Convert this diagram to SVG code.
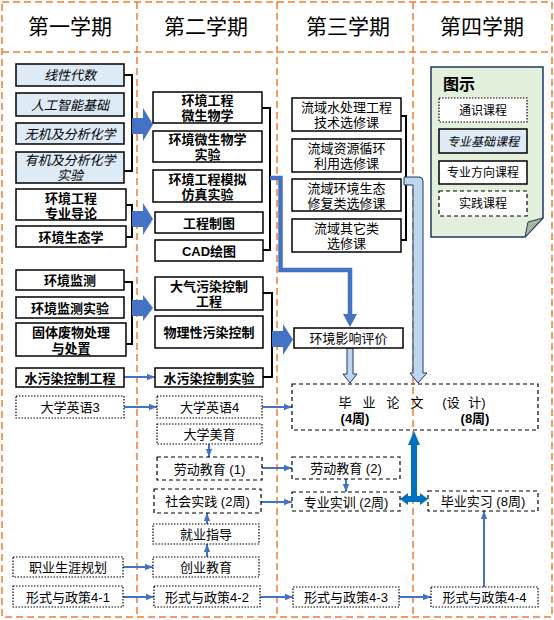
<svg xmlns="http://www.w3.org/2000/svg" width="554" height="620" viewBox="0 0 554 620">
<defs>
<style>
.hdr{font-family:"Liberation Sans","Noto Sans CJK SC",sans-serif;font-size:21px;text-anchor:middle;fill:#000}
.t{font-family:"Liberation Sans","Noto Sans CJK SC",sans-serif;font-size:13px;text-anchor:middle;fill:#000}
.b{font-weight:bold}
.s{font-size:12px}
.it{font-style:italic}
.box{fill:#fff;stroke:#000;stroke-width:1.5}
.base{fill:#DDEBF7;stroke:#000;stroke-width:1.5}
.dot{fill:#fff;stroke:#000;stroke-width:1.2;stroke-dasharray:1.5 1.5}
.dash{fill:#fff;stroke:#000;stroke-width:1.2;stroke-dasharray:4 3}
.frame{fill:none;stroke:#ED7D31;stroke-width:1.5;stroke-dasharray:7 4}
.br{fill:none;stroke:#000;stroke-width:2}
.ln{fill:none;stroke:#4472C4;stroke-width:2;marker-end:url(#ah)}
.blk{fill:#4472C4}
.lb{fill:#BDD7EE;stroke:#1F3864;stroke-width:1}
</style>
<marker id="ah" markerUnits="userSpaceOnUse" markerWidth="8" markerHeight="8" viewBox="0 0 8 8" refX="8" refY="4" orient="auto">
<path d="M0,0.8 L8,4 L0,7.2 Z" fill="#4472C4"/>
</marker>
</defs>

<g id="frame">
<rect class="frame" x="2" y="2" width="550" height="615"/>
<line class="frame" x1="2" y1="52" x2="552" y2="52"/>
<line class="frame" x1="137" y1="2" x2="137" y2="617"/>
<line class="frame" x1="277" y1="2" x2="277" y2="617"/>
<line class="frame" x1="413" y1="2" x2="413" y2="617"/>
<text class="hdr" x="70" y="34">第一学期</text>
<text class="hdr" x="206" y="34">第二学期</text>
<text class="hdr" x="348" y="34">第三学期</text>
<text class="hdr" x="482" y="34">第四学期</text>
</g>

<g id="connectors">
<path class="br" d="M124,75 H132 V171 H124"/>
<path class="br" d="M126,205 H132 V237 H126"/>
<path class="br" d="M124,282 H132 V344 H126"/>
<path class="br" d="M262,108 H270 V250 H263"/>
<path class="br" d="M263,293 H272 V377 H263"/>
<path class="br" d="M401,116 H406 V240 H401"/>
<path class="blk" d="M132,118 H143 V108 L153,124.5 L143,141 V134 H132 Z"/>
<path class="blk" d="M132,211 H143 V203 L153,219 L143,235 V227 H132 Z"/>
<path class="blk" d="M132,300 H143 V295 L153,308 L143,321 V316 H132 Z"/>
<path class="blk" d="M272,331 H283 V324 L293,339.5 L283,355 V347 H272 Z"/>
<path fill="none" stroke="#4472C4" stroke-width="4.5" d="M270,178 H280.5 V270 H350 V315"/>
<path class="blk" d="M343,314 H357 L350,327 Z"/>
<path class="lb" d="M347,348 H353 V374 H357 L350,383 L343,374 H347 Z"/>
<path class="lb" d="M404,177 H419 Q423,177 423,181 V373 H427 L418,383 L410,373 H413 V185 H404 Z"/>
<path fill="#0070C0" d="M414,431 L420,445 H417 V496 H420 V493 L428,499 L420,505 V502 H408 V505 L400,499 L408,493 V496 H411 V445 H408 Z"/>
<line class="ln" x1="124" y1="377" x2="155" y2="377"/>
<line class="ln" x1="124" y1="407" x2="157" y2="407"/>
<line class="ln" x1="262" y1="407" x2="292" y2="407"/>
<line class="ln" x1="209" y1="444" x2="209" y2="457"/>
<line class="ln" x1="262" y1="468" x2="292" y2="468"/>
<line class="ln" x1="261" y1="502" x2="292" y2="502"/>
<line class="ln" x1="346" y1="479" x2="346" y2="492"/>
<line class="ln" x1="207" y1="524" x2="207" y2="513"/>
<line class="ln" x1="207" y1="557" x2="207" y2="544"/>
<line class="ln" x1="123" y1="567" x2="153" y2="567"/>
<line class="ln" x1="123" y1="597" x2="154" y2="597"/>
<line class="ln" x1="260" y1="597" x2="293" y2="597"/>
<line class="ln" x1="399" y1="597" x2="431" y2="597"/>
<line class="ln" x1="484" y1="587" x2="484" y2="511"/>
</g>

<g id="n1"><rect class="base" x="16" y="64" width="108" height="22"/><text class="t it" x="70" y="80">线性代数</text></g>
<g id="n2"><rect class="base" x="16" y="93" width="108" height="23"/><text class="t it" x="70" y="109.5">人工智能基础</text></g>
<g id="n3"><rect class="base" x="16" y="123" width="108" height="21"/><text class="t it" x="70" y="138.5">无机及分析化学</text></g>
<g id="n4"><rect class="base" x="16" y="152" width="108" height="31"/><text class="t it" x="70" y="165">有机及分析化学</text><text class="t it" x="70" y="180">实验</text></g>
<g id="n5"><rect class="box" x="16" y="189" width="110" height="31"/><text class="t b" x="71" y="202.5">环境工程</text><text class="t b" x="71" y="217.5">专业导论</text></g>
<g id="n6"><rect class="box" x="16" y="226" width="110" height="21"/><text class="t b" x="71" y="241.5">环境生态学</text></g>
<g id="n7"><rect class="box" x="16" y="270" width="108" height="20"/><text class="t b" x="70" y="285">环境监测</text></g>
<g id="n8"><rect class="box" x="16" y="297" width="108" height="21"/><text class="t b" x="70" y="312.5">环境监测实验</text></g>
<g id="n9"><rect class="box" x="16" y="323" width="110" height="33"/><text class="t b" x="71" y="337">固体废物处理</text><text class="t b" x="71" y="353">与处置</text></g>
<g id="n10"><rect class="box" x="16" y="368" width="108" height="19"/><text class="t b" x="70" y="382.5">水污染控制工程</text></g>
<g id="n11"><rect class="dot" x="16" y="396" width="108" height="22"/><text class="t" x="70" y="412">大学英语3</text></g>
<g id="n12"><rect class="dot" x="13" y="557" width="110" height="20"/><text class="t" x="68" y="572">职业生涯规划</text></g>
<g id="n13"><rect class="dot" x="13" y="586" width="110" height="21"/><text class="t" x="68" y="601.5">形式与政策4-1</text></g>

<g id="n14"><rect class="box" x="153" y="92" width="109" height="31"/><text class="t b" x="207.5" y="105">环境工程</text><text class="t b" x="207.5" y="120">微生物学</text></g>
<g id="n15"><rect class="box" x="153" y="131" width="109" height="31"/><text class="t b" x="207.5" y="144">环境微生物学</text><text class="t b" x="207.5" y="159">实验</text></g>
<g id="n16"><rect class="box" x="153" y="170" width="109" height="32"/><text class="t b" x="207.5" y="183.5">环境工程模拟</text><text class="t b" x="207.5" y="198.5">仿真实验</text></g>
<g id="n17"><rect class="box" x="155" y="212" width="108" height="21"/><text class="t b" x="209" y="227.5">工程制图</text></g>
<g id="n18"><rect class="box" x="155" y="240" width="108" height="21"/><text class="t b" x="209" y="255.5">CAD绘图</text></g>
<g id="n19"><rect class="box" x="155" y="277" width="108" height="33"/><text class="t b" x="209" y="291">大气污染控制</text><text class="t b" x="209" y="306">工程</text></g>
<g id="n20"><rect class="box" x="155" y="316" width="108" height="32"/><text class="t b" x="209" y="337">物理性污染控制</text></g>
<g id="n21"><rect class="box" x="155" y="368" width="108" height="19"/><text class="t b" x="209" y="382.5">水污染控制实验</text></g>
<g id="n22"><rect class="dot" x="157" y="396" width="105" height="22"/><text class="t" x="209.5" y="412">大学英语4</text></g>
<g id="n23"><rect class="dot" x="157" y="424" width="105" height="20"/><text class="t" x="209.5" y="439">大学美育</text></g>
<g id="n24"><rect class="dash" x="157" y="457" width="105" height="23"/><text class="t" x="209.5" y="473.5">劳动教育 (1)</text></g>
<g id="n25"><rect class="dash" x="154" y="489" width="107" height="24"/><text class="t" x="207.5" y="506">社会实践 (2周)</text></g>
<g id="n26"><rect class="dot" x="153" y="524" width="106" height="20"/><text class="t" x="206" y="539">就业指导</text></g>
<g id="n27"><rect class="dot" x="153" y="557" width="106" height="20"/><text class="t" x="206" y="572">创业教育</text></g>
<g id="n28"><rect class="dot" x="154" y="586" width="106" height="21"/><text class="t" x="207" y="601.5">形式与政策4-2</text></g>

<g id="n29"><rect class="box" x="292" y="98" width="109" height="33"/><text class="t" x="346.5" y="112">流域水处理工程</text><text class="t" x="346.5" y="127">技术选修课</text></g>
<g id="n30"><rect class="box" x="292" y="139" width="109" height="33"/><text class="t" x="346.5" y="153">流域资源循环</text><text class="t" x="346.5" y="168">利用选修课</text></g>
<g id="n31"><rect class="box" x="292" y="179" width="109" height="32"/><text class="t" x="346.5" y="192.5">流域环境生态</text><text class="t" x="346.5" y="207.5">修复类选修课</text></g>
<g id="n32"><rect class="box" x="292" y="219" width="109" height="33"/><text class="t" x="346.5" y="233">流域其它类</text><text class="t" x="346.5" y="248">选修课</text></g>
<g id="n33"><rect class="box" x="294" y="328" width="109" height="20"/><text class="t" x="348.5" y="343">环境影响评价</text></g>
<g id="n34"><rect class="dash" x="292" y="457" width="108" height="22"/><text class="t" x="346" y="473">劳动教育 (2)</text></g>
<g id="n35"><rect class="dash" x="292" y="492" width="108" height="19"/><text class="t" x="346" y="506.5">专业实训 (2周)</text></g>
<g id="n36"><rect class="dot" x="293" y="587" width="106" height="20"/><text class="t" x="346" y="602">形式与政策4-3</text></g>

<g id="thesis"><rect x="292" y="384" width="246" height="46" fill="none" stroke="#000" stroke-width="1.2" stroke-dasharray="4 3"/>
<text class="t" x="345" y="407">毕</text><text class="t" x="369" y="407">业</text><text class="t" x="393" y="407">论</text><text class="t" x="417" y="407">文</text>
<text class="t" x="451" y="407">(设</text><text class="t" x="477" y="407">计)</text>
<text class="t b" x="355" y="423">(4周)</text><text class="t b" x="475" y="423">(8周)</text></g>

<g id="n37"><rect class="dash" x="428" y="491" width="110" height="20"/><text class="t" x="483" y="506">毕业实习 (8周)</text></g>
<g id="n38"><rect class="dot" x="431" y="587" width="107" height="20"/><text class="t" x="484.5" y="602">形式与政策4-4</text></g>

<g id="legend">
<path d="M431,67 H543 V218 L525,237 H431 Z" fill="#E2EFDA" stroke="#1F3864" stroke-width="1.5"/>
<path d="M543,218 L525,237 L528,222 Z" fill="#A9B79C" stroke="#1F3864" stroke-width="1"/>
<text x="443" y="90" font-family="'Liberation Sans','Noto Sans CJK SC',sans-serif" font-size="16" font-weight="bold">图示</text>
<rect class="dot" x="439" y="98" width="88" height="24"/><text class="t s" x="483" y="114.5">通识课程</text>
<rect class="base" x="439" y="129" width="88" height="24"/><text class="t s it" x="483" y="145.5">专业基础课程</text>
<rect class="box" x="439" y="161" width="88" height="23"/><text class="t s" x="483" y="177">专业方向课程</text>
<rect class="dash" x="439" y="191" width="88" height="25"/><text class="t s" x="483" y="208">实践课程</text>
</g>
</svg>
